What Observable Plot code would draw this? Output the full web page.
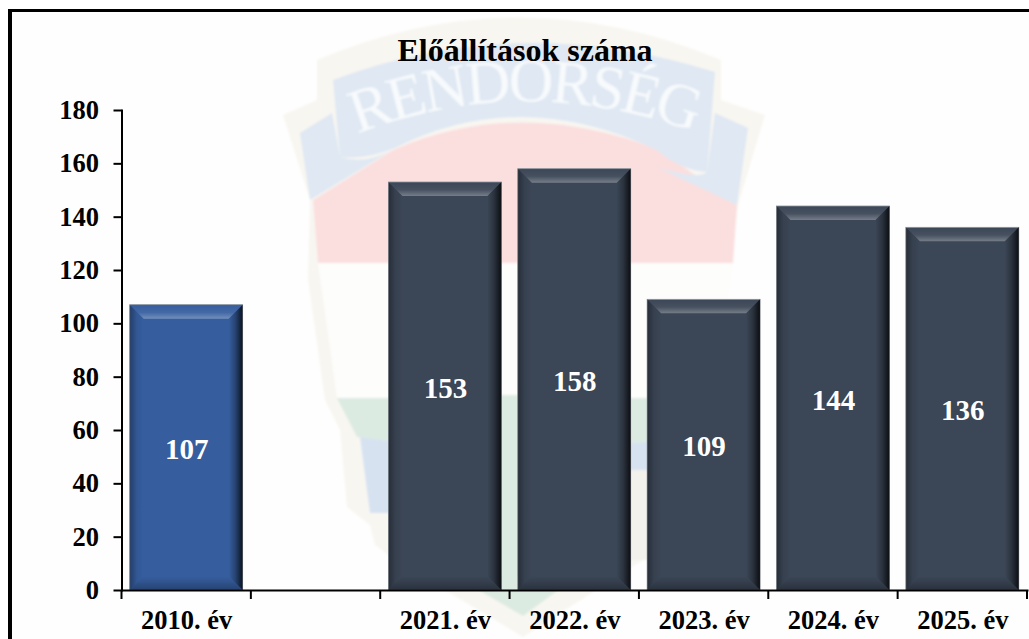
<!DOCTYPE html>
<html lang="hu">
<head>
<meta charset="utf-8">
<title>Előállítások száma</title>
<script src="https://cdn.jsdelivr.net/npm/d3@7"></script>
<script src="https://cdn.jsdelivr.net/npm/@observablehq/plot@0.6"></script>
<style>
  html, body { margin: 0; background: #fff; }
  #stage { position: relative; width: 1029px; height: 639px; overflow: hidden; font-family: "Liberation Serif", serif; }
  #paper { position: absolute; left: 8px; top: 9px; right: 0; bottom: 0; background: #fefefe; border-left: 4px solid #000; border-top: 3px solid #000; }
  #crest { position: absolute; left: 0; top: 0; }
  #chart-title { position: absolute; left: 0; top: 33px; width: 1050px; margin: 0; text-align: center; font: bold 32px/34px "Liberation Serif", serif; color: #000; }
  #chart { position: absolute; left: 0; top: 0; }
  #chart svg { background: transparent; display: block; }
</style>
</head>
<body>
<div id="stage">
  <div id="paper"></div>
  <svg id="crest" width="1029" height="639" viewBox="0 0 1029 639" aria-hidden="true">
    <defs>
      <filter id="soft" x="-5%" y="-5%" width="110%" height="110%"><feGaussianBlur stdDeviation="1.2"/></filter>
      <path id="arc" d="M352 136 Q522 68 700 134"/>
    </defs>
    <g filter="url(#soft)">
      <path fill="#f8f6f1" d="M283 115 L317 100 L317 60 Q519 -25 721 60 L721 100 L765 115 L738 205 L727 297 L713 400 L698 430 L691 507 L668 525 L663 545 L643 560 L523 637 L395 560 L375 545 L370 525 L347 507 L340 430 L325 400 L308 280 L310 200 Z"/>
      <path fill="#fbdfdf" d="M393 150 Q519 95 660 150 L737 205 L733 263 L318 263 L313 200 Z"/>
      <path fill="#fdfdfc" d="M318 263 L733 263 L713 398 L337 398 Z"/>
      <path fill="#dfe8f3" d="M333 80 Q519 10 715 72 L707 172 Q680 170 657 150 Q519 85 395 148 Q365 160 340 157 Z"/>
      <path fill="#dfe8f3" d="M715 113 L748 128 L737 205 L657 167 Q700 180 707 172 Z"/>
      <path fill="#dfe8f3" d="M332 113 L300 133 L310 200 L392 150 Q365 165 340 157 Z"/>
      <path fill="#dcebe1" d="M337 398 L701 398 L682 437 Q519 462 357 437 Z"/>
      <path fill="#d7e2f1" d="M360 437 Q519 462 680 437 L668 513 L370 513 Z"/>
      <path fill="#f3f1ec" d="M625 470 L660 470 L660 560 L625 560 Z"/>
      <path fill="#dcebe1" d="M497 395 L522 395 L522 590 L497 590 Z"/>
      <path fill="#dcebe1" d="M470 585 L523 616 L565 585 Z"/>
      <text font-family="Liberation Serif, serif" font-size="62" fill="#f8fafc"><textPath href="#arc" startOffset="50%" text-anchor="middle" textLength="345">RENDORSÉG</textPath></text>
    </g>
  </svg>
  <div id="chart"></div>
  <h2 id="chart-title">Előállítások száma</h2>
</div>
<script>
const categories = ["2010. év", " ", "2021. év", "2022. év", "2023. év", "2024. év", "2025. év"];
const years = ["2010. év", "2021. év", "2022. év", "2023. év", "2024. év", "2025. év"];
const counts = [107, 153, 158, 109, 144, 136];
const groups = ["past", "recent", "recent", "recent", "recent", "recent"];
const yTicks = [0, 20, 40, 60, 80, 100, 120, 140, 160, 180];
const groupDomain = ["past", "recent"];
const groupColors = ["#365e9f", "#3b4656"];

const rows = years.map((year, i) => ({year, count: counts[i], group: groups[i]}));
const svgNS = "http://www.w3.org/2000/svg";

// Bevel overlay: four trapezoids derived from each rendered bar rectangle.
function bevel(index, scales, values, dimensions, context, next) {
  const g = next(index, scales, values, dimensions, context);
  const defs = document.createElementNS(svgNS, "defs");
  const grads = [
    ["bvTop", 0, 0, 0, 1, "#fff", [[0, 0], [0.55, 0.06], [1, 0.3]]],
    ["bvBottom", 0, 1, 0, 0, "#000", [[0, 0.3], [0.6, 0.1], [1, 0]]],
    ["bvLeft", 0, 0, 1, 0, "#000", [[0, 0.35], [0.5, 0.08], [1, 0]]],
    ["bvRight", 1, 0, 0, 0, "#000", [[0, 0.8], [0.5, 0.3], [1, 0]]]
  ];
  for (const [id, x1, y1, x2, y2, color, stops] of grads) {
    const lg = document.createElementNS(svgNS, "linearGradient");
    lg.setAttribute("id", id);
    lg.setAttribute("x1", x1); lg.setAttribute("y1", y1);
    lg.setAttribute("x2", x2); lg.setAttribute("y2", y2);
    stops.forEach(([o, a]) => {
      const s = document.createElementNS(svgNS, "stop");
      s.setAttribute("offset", o);
      s.setAttribute("stop-color", color);
      s.setAttribute("stop-opacity", a);
      lg.appendChild(s);
    });
    defs.appendChild(lg);
  }
  g.appendChild(defs);
  const b = 14;
  for (const r of [...g.querySelectorAll("rect")]) {
    r.setAttribute("stroke", "#8c949e");
    r.setAttribute("stroke-width", "0.8");
    const x0 = +r.getAttribute("x"), y0 = +r.getAttribute("y");
    const x1 = x0 + +r.getAttribute("width"), y1 = y0 + +r.getAttribute("height");
    const polys = [
      ["bvTop", [[x0, y0], [x1, y0], [x1 - b, y0 + b], [x0 + b, y0 + b]]],
      ["bvBottom", [[x0, y1], [x1, y1], [x1 - b, y1 - b], [x0 + b, y1 - b]]],
      ["bvLeft", [[x0, y0], [x0 + b, y0 + b], [x0 + b, y1 - b], [x0, y1]]],
      ["bvRight", [[x1, y0], [x1 - b, y0 + b], [x1 - b, y1 - b], [x1, y1]]]
    ];
    for (const [id, pts] of polys) {
      const p = document.createElementNS(svgNS, "polygon");
      p.setAttribute("points", pts.map(q => q.join(",")).join(" "));
      p.setAttribute("fill", `url(#${id})`);
      g.appendChild(p);
    }
  }
  return g;
}

// Category ticks sit on the band edges, as in the spreadsheet chart.
function edgeTicks(index, scales, values, dimensions) {
  const x = scales.x;
  const step = x(categories[1]) - x(categories[0]);
  const bw = typeof x.bandwidth === "function" ? x.bandwidth() : x.bandwidth;
  const start = x(categories[0]) - (step - bw) / 2;
  const y = dimensions.height - dimensions.marginBottom;
  const g = d3.create("svg:g").attr("stroke", "#000").attr("stroke-width", 2);
  d3.range(categories.length + 1).forEach(i => {
    g.append("line").attr("x1", start + i * step).attr("x2", start + i * step).attr("y1", y).attr("y2", y + 9);
  });
  return g.node();
}

const plot = Plot.plot({
  width: 1029,
  height: 639,
  marginLeft: 121.5,
  marginRight: 2,
  marginTop: 110,
  marginBottom: 49,
  style: {background: "transparent", fontFamily: "'Liberation Serif', serif", fontWeight: "bold", color: "#000", overflow: "visible"},
  x: {domain: categories, paddingInner: 0.127, paddingOuter: 0.0635, align: 0.5, round: false, label: null},
  y: {domain: [0, 180], label: null},
  color: {domain: groupDomain, range: groupColors},
  marks: [
    Plot.barY(rows, {x: "year", y: "count", fill: "group", render: bevel}),
    Plot.text(rows, {x: "year", y: d => d.count / 2, text: d => String(d.count), fill: "#fff", fontSize: 29, fontWeight: "bold", dy: 2}),
    Plot.axisY({ticks: yTicks, tickSize: 8, tickPadding: 15, fontSize: 26.5, strokeWidth: 2, stroke: "#000", label: null, tickFormat: d => String(d)}),
    Plot.axisX({tickSize: 0, tickPadding: 20, fontSize: 26.5, label: null, stroke: "none"}),
    Plot.frame({anchor: "left", stroke: "#000", strokeWidth: 2}),
    Plot.frame({anchor: "bottom", stroke: "#000", strokeWidth: 2}),
    edgeTicks
  ]
});
document.getElementById("chart").appendChild(plot);
</script>
</body>
</html>
